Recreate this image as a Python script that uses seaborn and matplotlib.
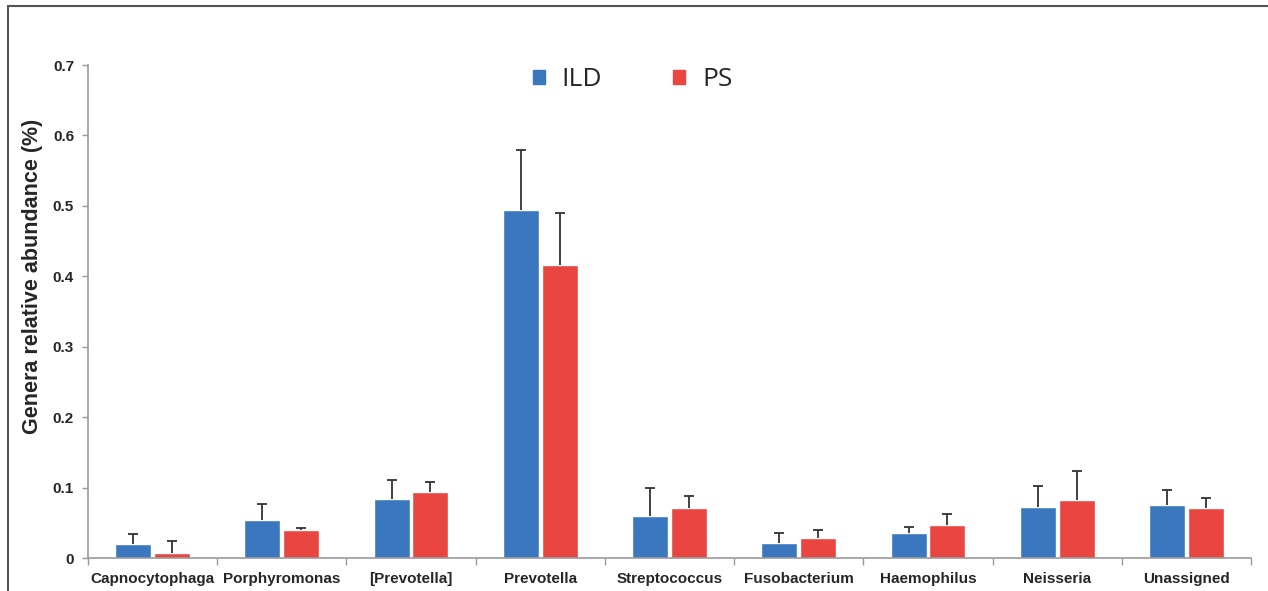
import pandas as pd
import seaborn as sns
import matplotlib.pyplot as plt
import matplotlib.patches as mpatches
import numpy as np

sns.set_style("white")
plt.rcParams['font.family'] = ['Liberation Sans', 'DejaVu Sans']

# genera and mean relative abundance
genera = ['Capnocytophaga', 'Porphyromonas', '[Prevotella]', 'Prevotella',
          'Streptococcus', 'Fusobacterium', 'Haemophilus', 'Neisseria', 'Unassigned']
groups = ['ILD', 'PS']
ild_mean = [0.020, 0.054, 0.084, 0.494, 0.060, 0.022, 0.035, 0.073, 0.075]
ps_mean = [0.007, 0.040, 0.094, 0.416, 0.071, 0.029, 0.047, 0.083, 0.071]
# upper error (SE) above the bar
ild_err = [0.014, 0.022, 0.027, 0.085, 0.040, 0.013, 0.009, 0.029, 0.022]
ps_err = [0.017, 0.002, 0.014, 0.074, 0.017, 0.011, 0.015, 0.040, 0.014]

colors = {'ILD': '#3A77BF', 'PS': '#E94541'}

df = pd.DataFrame({
    'genus': genera * 2,
    'group': ['ILD'] * len(genera) + ['PS'] * len(genera),
    'value': ild_mean + ps_mean,
    'err': ild_err + ps_err,
})

fig = plt.figure(figsize=(12.68, 5.91), dpi=100)
ax = fig.add_axes([0.0694, 0.0558, 0.9172, 0.8342])

sns.barplot(data=df, x='genus', y='value', hue='group', palette=colors,
            order=genera, hue_order=groups, width=0.6, gap=0.07,
            errorbar=None, ax=ax, legend=False, saturation=1)

# error bars only upward, from the bar tops
for cont, grp in zip(ax.containers, groups):
    sub = df[df['group'] == grp].set_index('genus').loc[genera]
    xs = [p.get_x() + p.get_width() / 2 for p in cont.patches]
    eb = ax.errorbar(xs, sub['value'].values,
                     yerr=[np.zeros(len(genera)), sub['err'].values],
                     fmt='none', ecolor='#333333', elinewidth=1.3,
                     capsize=3.5, capthick=1.3)
    # hide the lower cap that sits on the bar top
    eb.lines[1][0].set_visible(False)

ax.set_ylim(0, 0.7)
ax.set_xlim(-0.5, len(genera) - 0.5)
ax.set_yticks(np.arange(0, 0.71, 0.1))
ax.set_yticklabels(['0'] + [f'{v:.1f}' for v in np.arange(0.1, 0.71, 0.1)],
                   fontweight='bold', fontsize=11)
ax.set_xticks(range(len(genera)))
ax.set_xticklabels(genera, fontweight='bold', fontsize=11)
ax.tick_params(axis='x', length=0, pad=10)
ax.tick_params(axis='y', length=4, color='#999999', width=1, pad=6, direction='out', left=True)
# x ticks between categories
ax.set_xticks(np.arange(-0.5, len(genera), 1), minor=True)
ax.tick_params(axis='x', which='minor', length=5, color='#999999', width=1, direction='out', bottom=True)

sns.despine(ax=ax)
for s in ['left', 'bottom']:
    ax.spines[s].set_color('#999999')
    ax.spines[s].set_linewidth(1.2)

ax.set_xlabel('')
ax.set_ylabel('Genera relative abundance (%)', fontweight='bold', fontsize=15.5)
ax.yaxis.set_label_coords(-0.0385, 0.572)

handles = [mpatches.Patch(color=colors[g], label=g) for g in groups]
leg = fig.legend(handles=handles, loc='center', bbox_to_anchor=(0.499, 0.865), ncol=2,
                 frameon=False, prop={'family': 'Open Sans', 'size': 19},
                 handlelength=0.45, handleheight=0.45, handletextpad=0.65, columnspacing=2.7)

# outer frame
frame = mpatches.Rectangle((8 / 1268, -0.05), 1.1, 1.05 - 6.5 / 591, transform=fig.transFigure,
                           fill=False, edgecolor='#555555', linewidth=1.5, clip_on=False)
fig.patches.append(frame)

fig.savefig('out.png', dpi=100)
